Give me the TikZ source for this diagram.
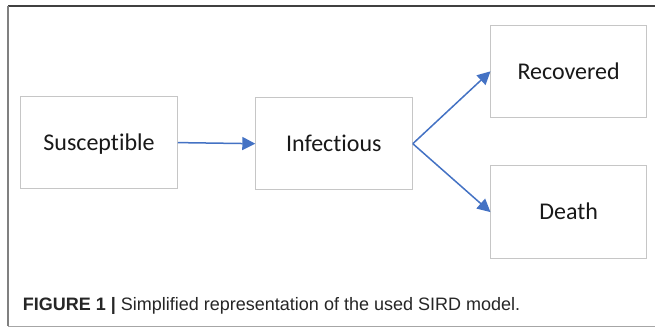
\documentclass[tikz,border=0pt]{standalone}
\usepackage{fontspec}
\setmainfont{Carlito}[RawFeature={-liga;-clig;-calt}]
\newfontfamily\capfont{Liberation Sans}
\usetikzlibrary{arrows.meta}
\definecolor{arrowblue}{HTML}{4472C4}
\definecolor{boxgray}{HTML}{C6C6C6}
\tikzset{
  statebox/.style={draw=boxgray, line width=1pt, minimum width=156pt, minimum height=92.5pt,
    inner sep=0pt, text height=15.5pt, text depth=0pt, font=\fontsize{24}{28}\selectfont, text=black!90},
  flow/.style={draw=arrowblue, line width=1.5pt, -{Triangle[length=13pt,width=13pt]}, shorten >=-0.5pt}
}
\begin{document}
\begin{tikzpicture}[x=1pt,y=-1pt]
\useasboundingbox (0,0) rectangle (655,328);
\fill[white] (0,0) rectangle (655,328);
% frame
\draw[color=black!75, line width=1.2pt] (8,6) -- (655,6);
\draw[color=black!50, line width=1.2pt] (8,6) -- (8,326);
\draw[color=black!35, line width=1pt] (8,326) -- (655,326);
% boxes
\node[statebox, minimum width=156.5pt, minimum height=92.5pt] (S) at (99,142.6) {Susceptible};
\node[statebox, minimum width=157pt, minimum height=92.5pt] (I) at (333.8,143.7) {Infectious};
\node[statebox] (R) at (568.6,71.7) {Recovered};
\node[statebox] (D) at (568.6,211.8) {Death};
% arrows
\draw[flow] (S.east) -- (I.west);
\draw[flow] (I.east) -- (R.west);
\draw[flow] (I.east) -- (D.west);
% caption
\node[anchor=base west, inner sep=0pt, font=\capfont\fontsize{18}{22}\selectfont, text=black!85] (cap) at (22.7,310.7)
  {\textbf{FIGURE 1 |} Simplified representation of the used SIRD model.};
\end{tikzpicture}
\end{document}
